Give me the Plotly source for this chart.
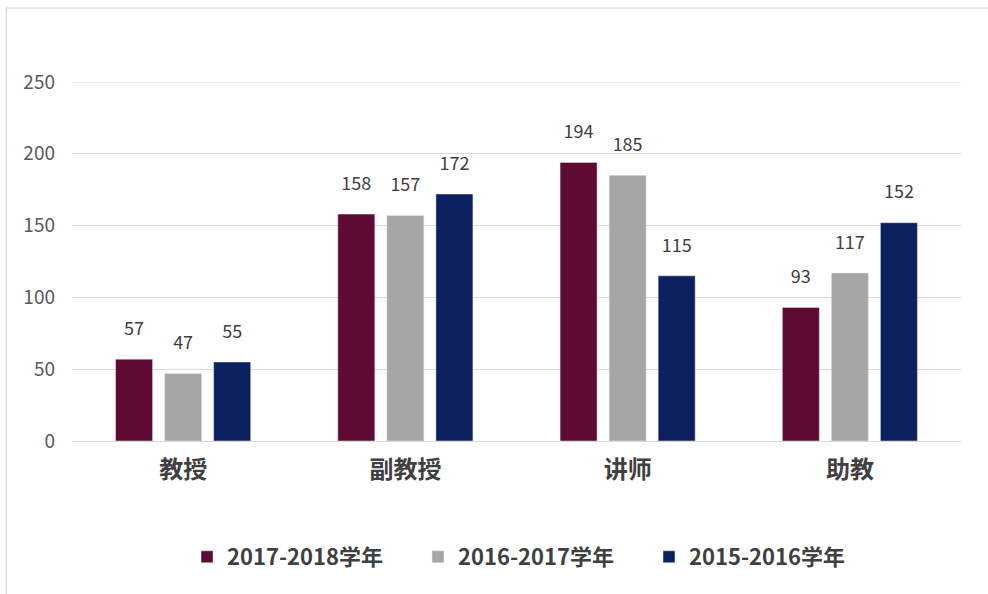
import plotly.graph_objects as go

categories = ["教授", "副教授", "讲师", "助教"]
series_names = ["2017-2018学年", "2016-2017学年", "2015-2016学年"]
values_2017_2018 = [57, 158, 194, 93]
values_2016_2017 = [47, 157, 185, 117]
values_2015_2016 = [55, 172, 115, 152]
colors = ["#5E0A32", "#A6A6A6", "#0C1F5E"]
y_ticks = [0, 50, 100, 150, 200, 250]

FONT = "Noto Sans CJK SC"
BARGAP = 0.338
fig = go.Figure()
all_vals = [values_2017_2018, values_2016_2017, values_2015_2016]
for i, (name, vals, col) in enumerate(zip(series_names, all_vals, colors)):
    fig.add_trace(go.Bar(
        x=categories, y=vals, name=name, marker_color=col,
        offsetgroup=str(i), hoverinfo="skip",
    ))
for i, (name, vals) in enumerate(zip(series_names, all_vals)):
    fig.add_trace(go.Scatter(
        x=categories, y=vals, mode="markers+text", offsetgroup=str(i),
        marker=dict(size=30, color="rgba(0,0,0,0)"),
        text=[str(v) for v in vals], textposition="top center",
        textfont=dict(size=18, color="#404040", family=FONT),
        showlegend=False, hoverinfo="skip", cliponaxis=False,
    ))

shapes = [dict(type="rect", xref="paper", yref="paper",
               x0=-0.074, x1=1.2, y0=-0.6, y1=1.206,
               line=dict(color="#D0D0D0", width=1), layer="below")]
shapes.append(dict(type="line", xref="paper", yref="y", x0=0, x1=1,
                   y0=y_ticks[-1], y1=y_ticks[-1],
                   line=dict(color="#D9D9D9", width=1), layer="below"))

fig.update_layout(
    width=988, height=594,
    margin=dict(l=72, r=27, t=82, b=153),
    paper_bgcolor="white", plot_bgcolor="white",
    barmode="group", bargap=BARGAP, bargroupgap=0.245,
    scattermode="group", scattergap=BARGAP,
    font=dict(family=FONT, color="#595959"),
    showlegend=True,
    legend=dict(orientation="h", x=(187 - 72) / 889, xanchor="left", y=-0.323, yanchor="middle",
                font=dict(size=22, color="#404040", family=FONT, weight="bold"),
                itemwidth=30, entrywidth=186, entrywidthmode="pixels", traceorder="normal"),
    shapes=shapes,
)
fig.update_xaxes(showgrid=False, ticks="", showline=True, linecolor="#D9D9D9",
                 tickfont=dict(size=24, color="#404040", family=FONT, weight="bold"),
                 ticklabelstandoff=7)
fig.update_yaxes(range=[0, 250], tickvals=y_ticks, showgrid=True, gridcolor="#D9D9D9",
                 gridwidth=1, zeroline=False, showline=False, ticks="",
                 tickfont=dict(size=19, color="#595959", family=FONT),
                 ticklabelstandoff=16)

fig.write_html("out.html", config={"displayModeBar": False},
               post_script="document.body.style.margin='0';document.body.style.overflow='hidden';")
